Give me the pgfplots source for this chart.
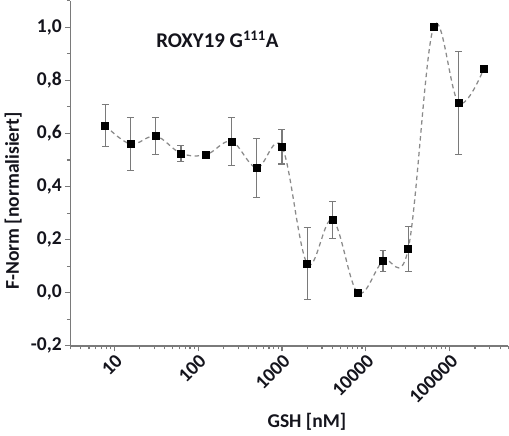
\documentclass[border=0pt]{standalone}
\usepackage{pgfplots}
\pgfplotsset{compat=1.18}
\usepackage{fontspec}
\setmainfont{Carlito}
\definecolor{txt}{HTML}{14141C}
\definecolor{axgray}{HTML}{7A7A7A}
\definecolor{dashgray}{HTML}{8A8A8A}
\begin{document}
\begin{tikzpicture}
\begin{axis}[
    scale only axis,
    width=314pt, height=247.5pt,
    xmode=log,
    xmin=3, xmax=500000,
    ymin=-0.2, ymax=1.1,
    axis lines*=left,
    axis line style={axgray, line width=0.9pt},
    every tick/.style={axgray, line width=0.8pt},
    tick align=outside,
    major tick length=4pt,
    minor tick length=2.5pt,
    xtick={10,100,1000,10000,100000},
    xticklabels={10,100,1000,10000,100000},
    minor xtick={3,4,5,6,7,8,9,20,30,40,50,60,70,80,90,200,300,400,500,600,700,800,900,2000,3000,4000,5000,6000,7000,8000,9000,20000,30000,40000,50000,60000,70000,80000,90000,200000,300000,400000,500000},
    ytick={-0.2,0,0.2,0.4,0.6,0.8,1.0},
    minor ytick={-0.1,0.1,0.3,0.5,0.7,0.9,1.1},
    /pgf/number format/assume math mode=true,
    yticklabel style={/pgf/number format/fixed, /pgf/number format/fixed zerofill,
        /pgf/number format/precision=1, /pgf/number format/use comma},
    ticklabel style={font=\fontsize{14}{16}\selectfont\bfseries, text=txt},
    x tick label style={rotate=45, anchor=north east, inner sep=1pt},
    y tick label style={inner sep=2pt},
    xlabel={GSH [nM]},
    ylabel={F-Norm [normalisiert]},
    label style={font=\fontsize{14}{16}\selectfont\bfseries, text=txt},
    xlabel style={at={(ticklabel cs:0.54)}, anchor=north, yshift=-1pt},
    ylabel style={at={(ticklabel cs:0.42)}, anchor=south, yshift=1pt},
    clip=false,
]
% dashed smooth connecting curve
\addplot[dashgray, line width=0.9pt, dash pattern=on 3.2pt off 2.5pt, smooth, tension=0.6] coordinates {
    (7.8125,0.63) (15.625,0.56) (31.25,0.59) (62.5,0.525) (125,0.52) (250,0.57)
    (500,0.47) (1000,0.55) (2000,0.11) (4000,0.275) (8000,0.0) (16000,0.12)
    (32000,0.165) (64000,1.0) (128000,0.715) (256000,0.845)
};
% points with error bars
\addplot[only marks, mark=square*, mark size=2.5pt, black,
    error bars/.cd, y dir=both, y explicit,
    error bar style={axgray, line width=0.9pt},
    error mark options={axgray, line width=0.8pt, rotate=90, mark size=2.5pt}]
    coordinates {
    (7.8125,0.63) +- (0,0.08)
    (15.625,0.56) +- (0,0.10)
    (31.25,0.59) +- (0,0.07)
    (62.5,0.525) +- (0,0.03)
    (125,0.52) +- (0,0.0)
    (250,0.57) +- (0,0.09)
    (500,0.47) +- (0,0.11)
    (1000,0.55) +- (0,0.065)
    (2000,0.11) +- (0,0.135)
    (4000,0.275) +- (0,0.07)
    (8000,0.0) +- (0,0.0)
    (16000,0.12) +- (0,0.04)
    (32000,0.165) +- (0,0.085)
    (64000,1.0) +- (0,0.0)
    (128000,0.715) +- (0,0.195)
    (256000,0.845) +- (0,0.0)
};
\node[font=\fontsize{15}{17}\selectfont\bfseries, text=txt, anchor=west]
    at (rel axis cs:0.185,0.888) {ROXY19 G\textsuperscript{111}A};
\end{axis}
\end{tikzpicture}
\end{document}
